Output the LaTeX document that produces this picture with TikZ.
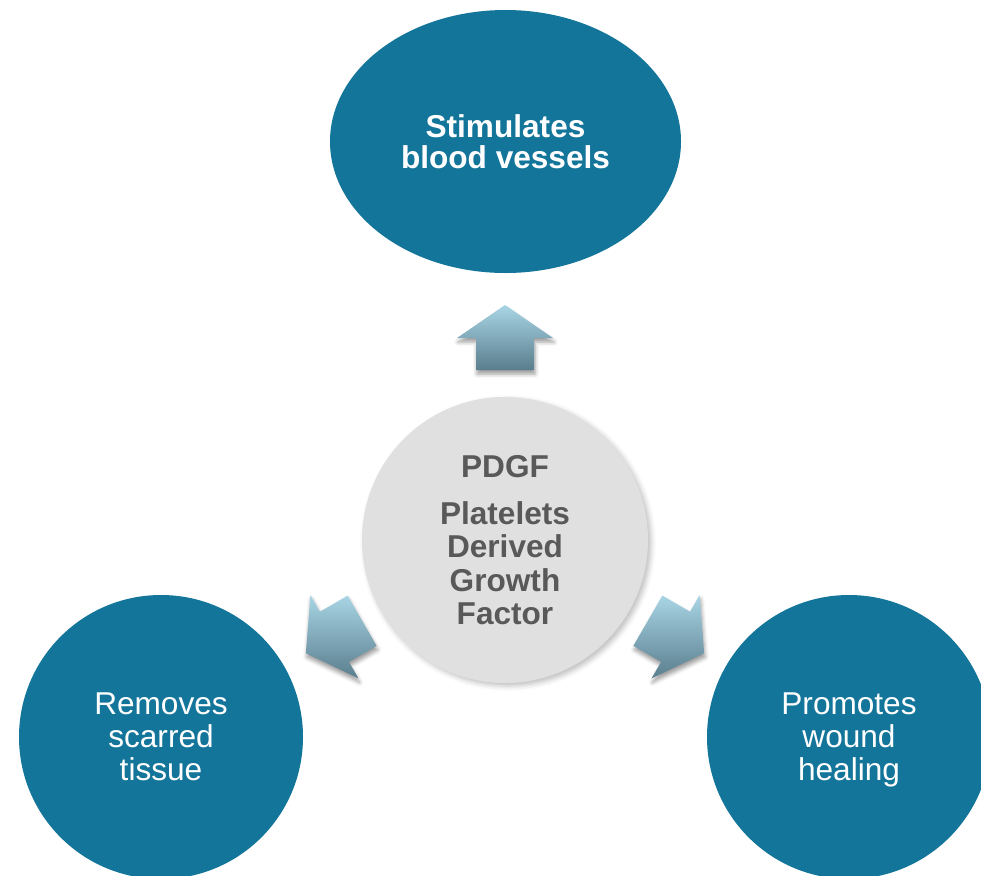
\documentclass[tikz,border=0pt]{standalone}
\usepackage{fontspec}
\setmainfont{Liberation Sans}
\usetikzlibrary{shapes.geometric,shadows.blur}
\definecolor{diagteal}{RGB}{20,117,154}
\definecolor{centergray}{RGB}{224,224,224}
\definecolor{centertext}{RGB}{89,89,89}
\definecolor{arrowlight}{RGB}{168,213,229}
\definecolor{arrowdark}{RGB}{90,126,142}
\begin{document}
\begin{tikzpicture}[x=1pt,y=-1pt,
  tealcircle/.style={circle, fill=diagteal, text=white, minimum size=284pt, inner sep=0pt,
    align=center, font=\fontsize{31.6}{33}\selectfont},
  topellipse/.style={ellipse, fill=diagteal, text=white, minimum width=351pt, minimum height=263pt,
    inner sep=0pt, align=center, font=\fontsize{31.6}{31}\selectfont\bfseries},
  centercircle/.style={circle, fill=centergray, text=centertext, minimum size=286pt, inner sep=0pt,
    align=center, font=\fontsize{31.6}{33.5}\selectfont\bfseries,
    blur shadow={shadow xshift=3pt, shadow yshift=-3pt, shadow blur radius=5pt, shadow opacity=25}},
  fatarrow/.style={top color=arrowlight, bottom color=arrowdark, draw=none,
    blur shadow={shadow xshift=1pt, shadow yshift=-4pt, shadow blur radius=4pt, shadow opacity=40}}
]
\useasboundingbox (0,0) rectangle (981,875);
\clip (0,0) rectangle (981,875);

\node[topellipse] (top) at (505.5,141.5) {Stimulates\\blood vessels};
\node[tealcircle] (left) at (161,737) {Removes\\scarred\\tissue};
\node[tealcircle] (right) at (849,737) {Promotes\\wound\\\raisebox{0pt}[\height][0pt]{healing}};

% arrows
\path[fatarrow] (505,305) -- (553,338) -- (534,338) -- (534,370) -- (476,370) -- (476,338) -- (457,338) -- cycle;
\path[fatarrow] (305.85,653.25) -- (358.43,678.32) -- (348.93,661.86) -- (376.65,645.86)
  -- (347.65,595.64) -- (319.93,611.64) -- (310.43,595.18) -- cycle;
\path[fatarrow] (704.15,653.25) -- (651.57,678.32) -- (661.07,661.86) -- (633.35,645.86)
  -- (662.35,595.64) -- (690.07,611.64) -- (699.57,595.18) -- cycle;

\node[centercircle] (center) at (505,540) {PDGF\\[13.5pt]Platelets\\Derived\\Growth\\Factor};
\end{tikzpicture}
\end{document}
